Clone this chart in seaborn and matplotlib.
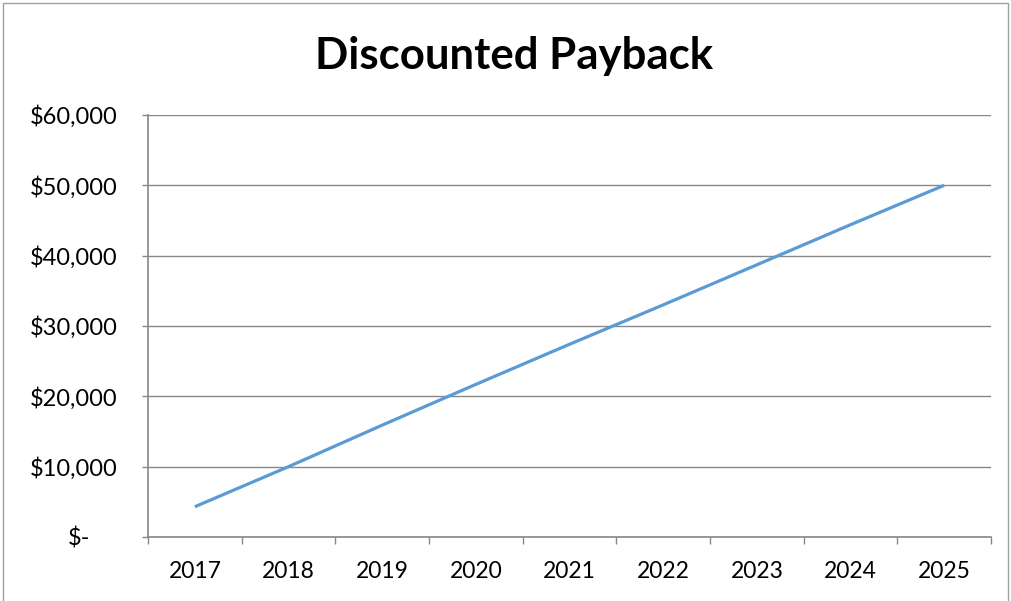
import matplotlib
matplotlib.use("Agg")
import matplotlib.pyplot as plt
import matplotlib.transforms as mtransforms
from matplotlib.patches import Rectangle
from matplotlib.ticker import FixedLocator
import seaborn as sns
import pandas as pd

# Cumulative discounted cash flow by year
years = ["2017", "2018", "2019", "2020", "2021", "2022", "2023", "2024", "2025"]
cumulative_value = [4300, 10000, 15900, 21700, 27400, 33000, 38700, 44400, 50000]
y_ticks = [0, 10000, 20000, 30000, 40000, 50000, 60000]
y_tick_labels = ["$-", "$10,000", "$20,000", "$30,000", "$40,000", "$50,000", "$60,000"]
title = "Discounted Payback"

sns.set_theme(style="white")
plt.rcParams["font.family"] = ["Lato", "DejaVu Sans"]

GRID = "#878787"
LINE = "#5B9BD5"

df = pd.DataFrame({"year": years, "value": cumulative_value})

fig = plt.figure(figsize=(10.11, 6.01), dpi=100)
ax = fig.add_axes([148 / 1011, 1 - 537 / 601, (991 - 148) / 1011, (537 - 115) / 601])

sns.lineplot(data=df, x="year", y="value", ax=ax, color=LINE, linewidth=2.3,
             sort=False, solid_capstyle="butt")

ax.set_xlim(-0.5, len(years) - 0.5)
ax.set_ylim(0, 60000)

ax.set_yticks(y_ticks)
ax.set_yticklabels(y_tick_labels, fontsize=17, color="#000000")
ax.yaxis.grid(True, color=GRID, linewidth=1.0)
ax.xaxis.grid(False)

# category ticks sit at bin boundaries; labels stay centered on the bins
ax.set_xticks(range(len(years)))
ax.set_xticklabels(years, fontsize=16.5, color="#000000")
ax.xaxis.set_minor_locator(FixedLocator([i - 0.5 for i in range(len(years) + 1)]))
ax.tick_params(axis="x", which="major", length=0, pad=17)
ax.tick_params(axis="x", which="minor", length=5, width=1.0, color=GRID, direction="out", bottom=True)
ax.tick_params(axis="y", which="major", length=4, width=1.0, color=GRID, direction="out", left=True, pad=18)

ax.set_xlabel("")
ax.set_ylabel("")

for side in ("top", "right"):
    ax.spines[side].set_visible(False)
for side in ("left", "bottom"):
    ax.spines[side].set_color(GRID)
    ax.spines[side].set_linewidth(1.2)

# accounting-style zero label sits left of the other labels
zero_tick = ax.yaxis.get_major_ticks()[0]
zero_tick.label1.set_transform(
    zero_tick.label1.get_transform()
    + mtransforms.ScaledTranslation(-27 / 100, 0, fig.dpi_scale_trans)
)

fig.text(514 / 1011, 1 - 56 / 601, title, ha="center", va="center",
         fontsize=31.5, fontweight="bold", color="#000000")

# chart area border
fig.patches.append(Rectangle((2.5 / 1011, -0.01), (1008 - 2.5) / 1011, 1 - 3 / 601 + 0.01,
                             transform=fig.transFigure, fill=False,
                             edgecolor="#A0A0A0", linewidth=1.0))

fig.savefig("out.png", dpi=100)
